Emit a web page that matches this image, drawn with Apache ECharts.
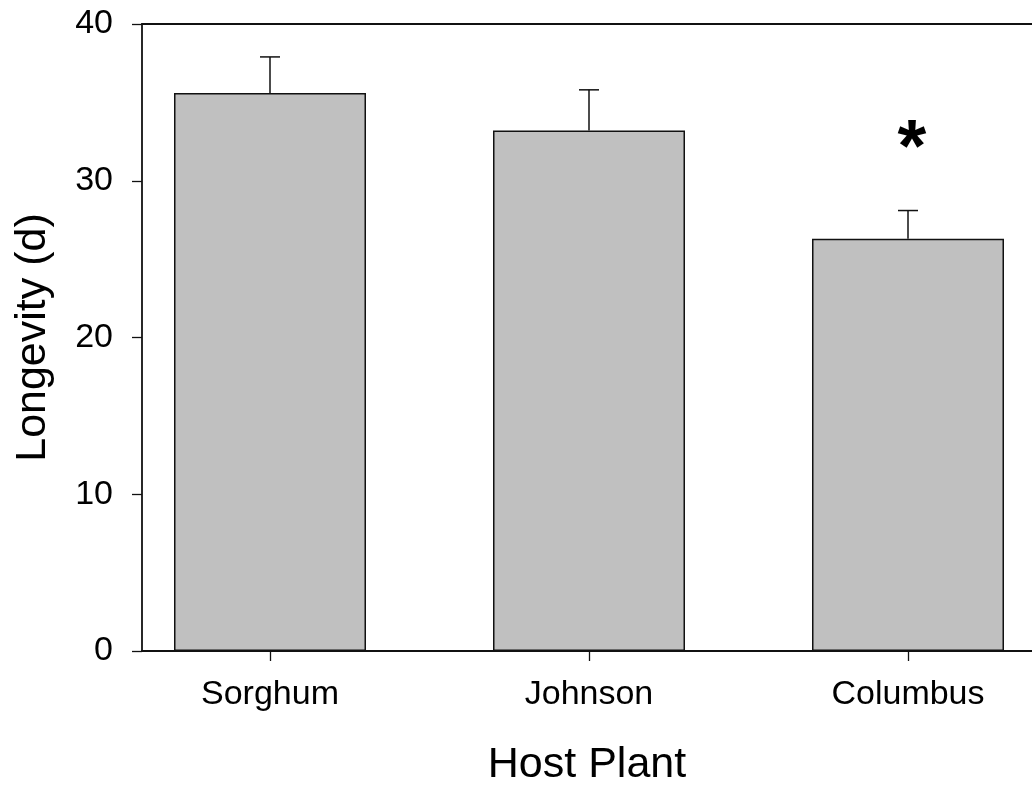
<!DOCTYPE html>
<html>
<head>
<meta charset="utf-8">
<script src="https://cdn.jsdelivr.net/npm/echarts@6/dist/echarts.min.js"></script>
<style>
html, body { margin: 0; padding: 0; background: #fff; }
#chart { width: 1032px; height: 787px; }
</style>
</head>
<body>
<div id="chart"></div>
<script>
// host plants and longevity (mean, SE)
var categories = ['Sorghum', 'Johnson', 'Columbus'];
var means = [35.6, 33.2, 26.3];
var errs = [2.3, 2.6, 1.8];
var marks = ['', '', '*'];

var FONT = 'Liberation Sans, Arial, sans-serif';

var positions = [];
var barData = [];
var errData = [];
for (var i = 0; i < categories.length; i++) {
	positions.push(i + 1);
	barData.push([i + 1, means[i]]);
	errData.push([i + 1, means[i], errs[i], marks[i]]);
}

var myChart = echarts.init(document.getElementById('chart'));

var axisX = {
	type : 'value',
	min : 1 - 128 / 319,
	max : 3 + 124 / 319,
	splitLine : { show : false },
	axisLine : { show : true, lineStyle : { color : '#111', width : 1.8 } },
	axisTick : {
		show : true,
		customValues : positions,
		length : 10,
		lineStyle : { color : '#111', width : 1.3 }
	},
	axisLabel : {
		customValues : positions,
		margin : 27,
		color : '#000',
		fontSize : 34,
		fontFamily : FONT,
		formatter : function(v) {
			return categories[Math.round(v) - 1] || '';
		}
	},
	name : 'Host Plant',
	nameLocation : 'middle',
	nameGap : 93,
	nameTextStyle : { color : '#000', fontSize : 43, fontFamily : FONT }
};

var option = {
	backgroundColor : '#fff',
	animation : false,
	grid : { left : 142, right : 0, top : 24, bottom : 136, containLabel : false, outerBoundsMode : 'none' },
	xAxis : [ axisX, {
		type : 'value',
		position : 'top',
		min : axisX.min,
		max : axisX.max,
		splitLine : { show : false },
		axisLine : { show : true, lineStyle : { color : '#111', width : 1.8 } },
		axisTick : { show : false },
		axisLabel : { show : false }
	} ],
	yAxis : {
		type : 'value',
		min : 0,
		max : 40,
		interval : 10,
		splitLine : { show : false },
		axisLine : { show : true, lineStyle : { color : '#111', width : 1.8 } },
		axisTick : { show : true, length : 10, lineStyle : { color : '#111', width : 1.3 } },
		axisLabel : { margin : 29, color : '#000', fontSize : 34, fontFamily : FONT },
		name : 'Longevity (d)',
		nameLocation : 'middle',
		nameRotate : 90,
		nameGap : 87,
		nameTextStyle : { color : '#000', fontSize : 43, fontFamily : FONT }
	},
	series : [ {
		type : 'bar',
		barWidth : 192,
		itemStyle : { color : '#c0c0c0', borderColor : '#111', borderWidth : 1.5 },
		data : barData,
		z : 2
	}, {
		type : 'custom',
		z : 3,
		renderItem : function(params, api) {
			var x = api.value(0);
			var m = api.value(1);
			var e = api.value(2);
			var top = api.coord([ x, m + e ]);
			var base = api.coord([ x, m ]);
			var children = [ {
				type : 'line',
				shape : { x1 : base[0], y1 : base[1], x2 : top[0], y2 : top[1] },
				style : { stroke : '#111', lineWidth : 1.5 }
			}, {
				type : 'line',
				shape : { x1 : top[0] - 10, y1 : top[1], x2 : top[0] + 10, y2 : top[1] },
				style : { stroke : '#111', lineWidth : 1.5 }
			} ];
			var mk = errData[params.dataIndex][3];
			if (mk) {
				children.push({
					type : 'text',
					x : top[0] + 4,
					y : top[1] - 60,
					style : {
						text : mk,
						fill : '#000',
						font : 'bold 74px ' + FONT,
						align : 'center',
						verticalAlign : 'middle'
					}
				});
			}
			return { type : 'group', children : children };
		},
		data : errData
	} ]
};
myChart.setOption(option);
</script>
</body>
</html>
